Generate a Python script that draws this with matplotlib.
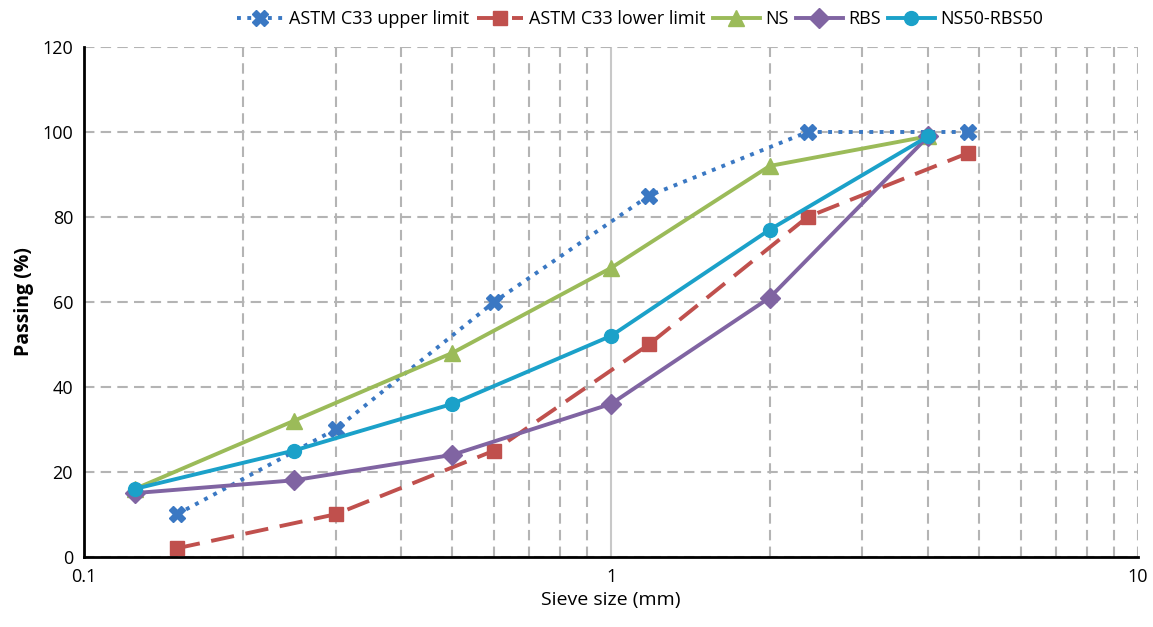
import numpy as np
import matplotlib.pyplot as plt
from matplotlib.ticker import LogLocator, NullFormatter, FixedLocator, FixedFormatter

plt.rcParams['font.family'] = ['Open Sans', 'DejaVu Sans']

# sieve sizes (mm)
astm_sizes = [0.15, 0.3, 0.6, 1.18, 2.36, 4.75]
sample_sizes = [0.125, 0.25, 0.5, 1, 2, 4]

# passing (%)
astm_upper = [10, 30, 60, 85, 100, 100]
astm_lower = [2, 10, 25, 50, 80, 95]
ns = [16, 32, 48, 68, 92, 99]
rbs = [15, 18, 24, 36, 61, 99]
ns50_rbs50 = [16, 25, 36, 52, 77, 99]

fig = plt.figure(figsize=(11.53, 6.27), dpi=100)
ax = fig.add_axes([0.073, 0.112, 0.914, 0.813])

ax.plot(astm_sizes, astm_upper, ls=':', lw=2.8, color='#3A78C3', marker='X',
        ms=11, label='ASTM C33 upper limit')
ax.plot(astm_sizes, astm_lower, ls=(0, (6, 3)), lw=2.8, color='#C0504D', marker='s',
        ms=10, label='ASTM C33 lower limit')
ax.plot(sample_sizes, ns, lw=2.8, color='#9BBB59', marker='^', ms=11, label='NS')
ax.plot(sample_sizes, rbs, lw=2.8, color='#8064A2', marker='D', ms=10, label='RBS')
ax.plot(sample_sizes, ns50_rbs50, lw=2.8, color='#1BA1C9', marker='o', ms=10,
        label='NS50-RBS50')

ax.set_xscale('log')
ax.set_xlim(0.1, 10)
ax.set_ylim(0, 120)
ax.set_yticks(np.arange(0, 121, 20))
ax.xaxis.set_major_locator(FixedLocator([0.1, 1, 10]))
ax.xaxis.set_major_formatter(FixedFormatter(['0.1', '1', '10']))
ax.xaxis.set_minor_locator(LogLocator(base=10, subs=np.arange(2, 10)))
ax.xaxis.set_minor_formatter(NullFormatter())

ax.grid(True, which='major', axis='y', ls=(0, (5, 3)), color='#B4B4B4', lw=1.5)
ax.grid(True, which='minor', axis='x', ls=(0, (5, 3)), color='#B4B4B4', lw=1.5)
ax.axvline(10, ls=(0, (5, 3)), color='#B4B4B4', lw=1.5, zorder=0)
ax.axvline(1, color='#C8C8C8', lw=1.5, zorder=0)
ax.set_axisbelow(True)

for s in ['top', 'right']:
    ax.spines[s].set_visible(False)
for s in ['left', 'bottom']:
    ax.spines[s].set_linewidth(2)
    ax.spines[s].set_color('black')

ax.tick_params(which='both', length=0, labelsize=13, pad=8)
ax.set_xlabel('Sieve size (mm)', fontsize=14, labelpad=4)
ax.set_ylabel('Passing (%)', fontsize=14, fontweight='bold', labelpad=6)

fig.legend(loc='upper center', bbox_to_anchor=(0.555, 1.01), ncol=5, frameon=False,
           fontsize=13, handlelength=2.6, columnspacing=0.4, handletextpad=0.3)

fig.savefig('out.png', dpi=100)
